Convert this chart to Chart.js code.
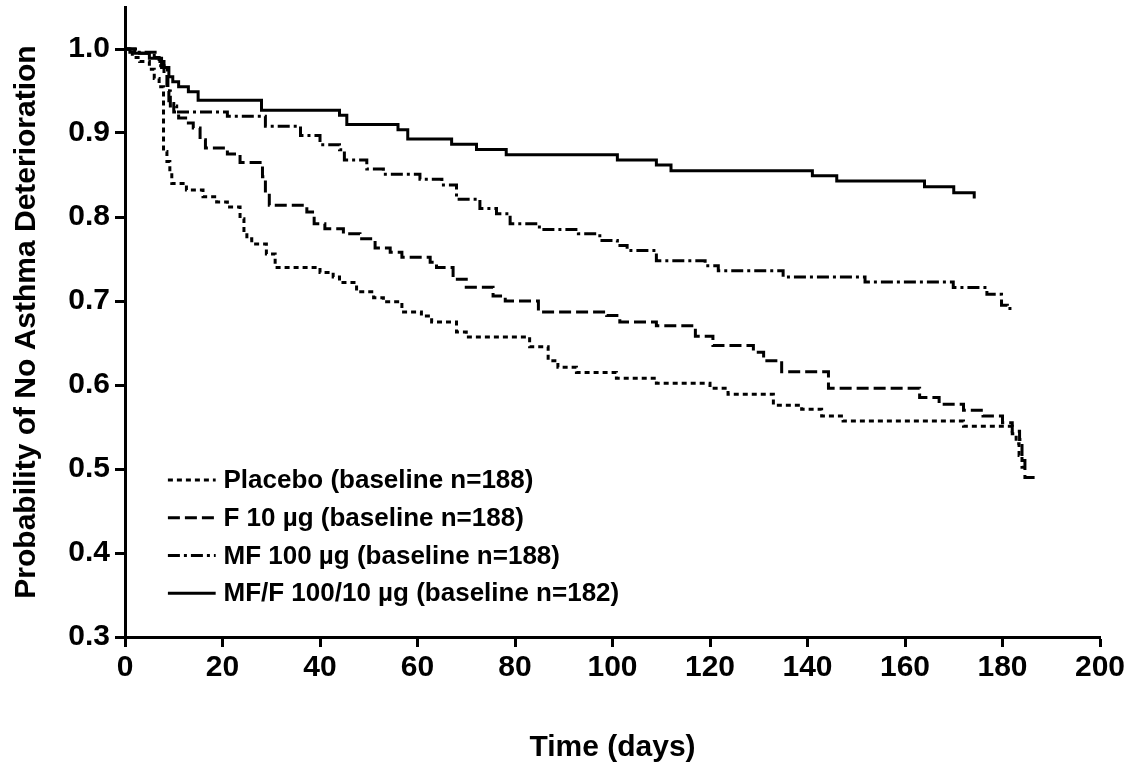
<!DOCTYPE html>
<html>
<head>
<meta charset="utf-8">
<script src="https://cdn.jsdelivr.net/npm/chart.js@4.4.1/dist/chart.umd.min.js"></script>
<style>
  html, body { margin: 0; padding: 0; background: #fff; }
  #wrap { width: 1136px; height: 771px; }
</style>
</head>
<body>
<div id="wrap"><canvas id="kmChart" width="1136" height="771"></canvas></div>
<script>
// Kaplan-Meier curves: day where the step happens, survival after the step
const placeboDays = [0, 1.5, 3, 5, 6, 7, 7.9, 8.6, 9.2, 9.6, 12.6, 16, 18.8, 21, 23.6, 24.4, 25, 26, 29, 30.8, 40, 42.7, 44, 47.5, 51, 53, 56.8, 60.8, 62.9, 68, 70, 83, 86.8, 88.8, 92.6, 100.8, 109, 120, 123.7, 133, 138.8, 142.9, 147.3, 172, 182, 182.8, 183.4, 184, 184.5];
const placeboSurv = [1.0, 0.99, 0.985, 0.976, 0.965, 0.955, 0.878, 0.866, 0.854, 0.840, 0.832, 0.824, 0.818, 0.812, 0.798, 0.782, 0.774, 0.768, 0.756, 0.740, 0.734, 0.7285, 0.722, 0.711, 0.704, 0.699, 0.687, 0.682, 0.675, 0.663, 0.657, 0.6455, 0.629, 0.621, 0.615, 0.608, 0.602, 0.596, 0.589, 0.576, 0.571, 0.563, 0.557, 0.551, 0.542, 0.530, 0.516, 0.502, 0.502];

const f10Days = [0, 3, 6, 7, 8, 8.6, 9, 10, 11, 13, 14, 15.4, 16.5, 21, 23.6, 28.2, 28.8, 29.6, 37.3, 38.8, 41, 44.8, 48.2, 51.3, 54.4, 56.8, 62.6, 63.9, 67.3, 70, 75.5, 78, 84.8, 98.8, 101.5, 109, 117, 120.6, 128.9, 131, 134.7, 144.3, 163, 167, 172, 176, 180, 182, 183.5, 184, 184.6, 187.5];
const f10Surv = [1.0, 0.995, 0.99, 0.98, 0.97, 0.95, 0.935, 0.925, 0.918, 0.912, 0.906, 0.892, 0.882, 0.875, 0.865, 0.848, 0.828, 0.814, 0.806, 0.792, 0.786, 0.780, 0.774, 0.763, 0.758, 0.752, 0.746, 0.740, 0.726, 0.7165, 0.706, 0.700, 0.687, 0.6826, 0.675, 0.6706, 0.658, 0.647, 0.639, 0.629, 0.6157, 0.596, 0.585, 0.577, 0.570, 0.563, 0.555, 0.545, 0.535, 0.51, 0.49, 0.49];

const mf100Days = [0, 1, 6.5, 8, 8.8, 9.3, 10.6, 21, 28.8, 36, 40, 44, 45, 49.6, 53, 60.5, 65, 68, 72.8, 76.2, 79, 85, 93, 97.4, 101, 103, 109, 119, 121.7, 135, 151.8, 169.9, 176.8, 179.8, 181, 182];
const mf100Surv = [1.0, 0.996, 0.985, 0.975, 0.95, 0.932, 0.925, 0.920, 0.908, 0.897, 0.886, 0.880, 0.868, 0.857, 0.851, 0.845, 0.838, 0.821, 0.810, 0.804, 0.792, 0.785, 0.780, 0.772, 0.766, 0.760, 0.748, 0.742, 0.736, 0.7285, 0.7225, 0.716, 0.708, 0.695, 0.691, 0.691];

const mffDays = [0, 2, 5, 7.5, 9, 9.8, 11, 13, 15, 28, 44, 45.5, 56, 58, 67, 72.1, 78.2, 101, 109, 112, 141, 146, 164, 170, 174.2];
const mffSurv = [1.0, 0.995, 0.989, 0.978, 0.967, 0.961, 0.955, 0.949, 0.939, 0.927, 0.921, 0.910, 0.904, 0.893, 0.8865, 0.8805, 0.874, 0.868, 0.862, 0.855, 0.849, 0.843, 0.836, 0.829, 0.822];

const seriesLabels = [
  "Placebo (baseline n=188)",
  "F 10 \u00b5g (baseline n=188)",
  "MF 100 \u00b5g (baseline n=188)",
  "MF/F 100/10 \u00b5g (baseline n=182)",
];
const xTicks = [0, 20, 40, 60, 80, 100, 120, 140, 160, 180, 200];
const yTicks = [0.3, 0.4, 0.5, 0.6, 0.7, 0.8, 0.9, 1.0];

const FONT = "'Liberation Sans', Arial, sans-serif";

function toPoints(days, surv) {
  return days.map((d, i) => ({ x: d, y: surv[i] }));
}

function makeSet(label, days, surv, dash) {
  return {
    label,
    data: toPoints(days, surv),
    borderColor: "#000",
    borderWidth: 3,
    borderDash: dash,
    borderCapStyle: "butt",
    pointRadius: 0,
    stepped: true,
    fill: false,
  };
}

// legend drawn inside the plot, lower left
const insideLegend = {
  id: "insideLegend",
  afterDraw(chart) {
    const { ctx, scales } = chart;
    const x0 = scales.x.getPixelForValue(8.8);
    const x1 = scales.x.getPixelForValue(18.6);
    const tx = scales.x.getPixelForValue(20.2);
    const rowY = [0.487, 0.442, 0.397, 0.352];
    ctx.save();
    ctx.font = "bold 26px " + FONT;
    ctx.fillStyle = "#000";
    ctx.textBaseline = "middle";
    chart.data.datasets.forEach((ds, i) => {
      const y = scales.y.getPixelForValue(rowY[i]);
      ctx.strokeStyle = "#000";
      ctx.lineWidth = 3;
      ctx.setLineDash(ds.borderDash || []);
      ctx.beginPath();
      ctx.moveTo(x0, y);
      ctx.lineTo(x1, y);
      ctx.stroke();
      ctx.setLineDash([]);
      ctx.fillText(ds.label, tx, y + 1);
    });
    ctx.restore();
  },
};

const ctx = document.getElementById("kmChart").getContext("2d");
new Chart(ctx, {
  type: "line",
  data: {
    datasets: [
      makeSet(seriesLabels[0], placeboDays, placeboSurv, [5, 4]),
      makeSet(seriesLabels[1], f10Days, f10Surv, [12, 5]),
      makeSet(seriesLabels[2], mf100Days, mf100Surv, [12, 4, 3, 4]),
      makeSet(seriesLabels[3], mffDays, mffSurv, []),
    ],
  },
  options: {
    responsive: false,
    animation: false,
    layout: { padding: { left: 5, top: 7, right: 36, bottom: 1 } },
    plugins: { legend: { display: false }, tooltip: { enabled: false } },
    scales: {
      x: {
        type: "linear",
        min: 0,
        max: 200,
        afterBuildTicks: (s) => { s.ticks = xTicks.map((v) => ({ value: v })); },
        afterFit: (s) => { s.height = 133; s.paddingLeft = 0; s.paddingRight = 0; },
        grid: { drawOnChartArea: false, drawTicks: true, tickLength: 10, tickWidth: 3, tickColor: "#000" },
        border: { display: true, width: 3, color: "#000" },
        ticks: { color: "#000", font: { family: FONT, size: 30, weight: "bold" }, padding: 3, maxRotation: 0 },
        title: { display: true, text: "Time (days)", color: "#000", font: { family: FONT, size: 30, weight: "bold" } },
      },
      y: {
        type: "linear",
        min: 0.3,
        max: 1.05,
        afterBuildTicks: (s) => { s.ticks = yTicks.map((v) => ({ value: v })); },
        afterFit: (s) => { s.width = 120; s.paddingTop = 0; s.paddingBottom = 0; },
        grid: { drawOnChartArea: false, drawTicks: true, tickLength: 10, tickWidth: 3, tickColor: "#000" },
        border: { display: true, width: 3, color: "#000" },
        ticks: { color: "#000", font: { family: FONT, size: 30, weight: "bold" }, padding: 5, callback: (v) => Number(v).toFixed(1) },
        title: { display: true, text: "Probability of No Asthma Deterioration", color: "#000", font: { family: FONT, size: 30, weight: "bold" } },
      },
    },
  },
  plugins: [insideLegend],
});
</script>
</body>
</html>
